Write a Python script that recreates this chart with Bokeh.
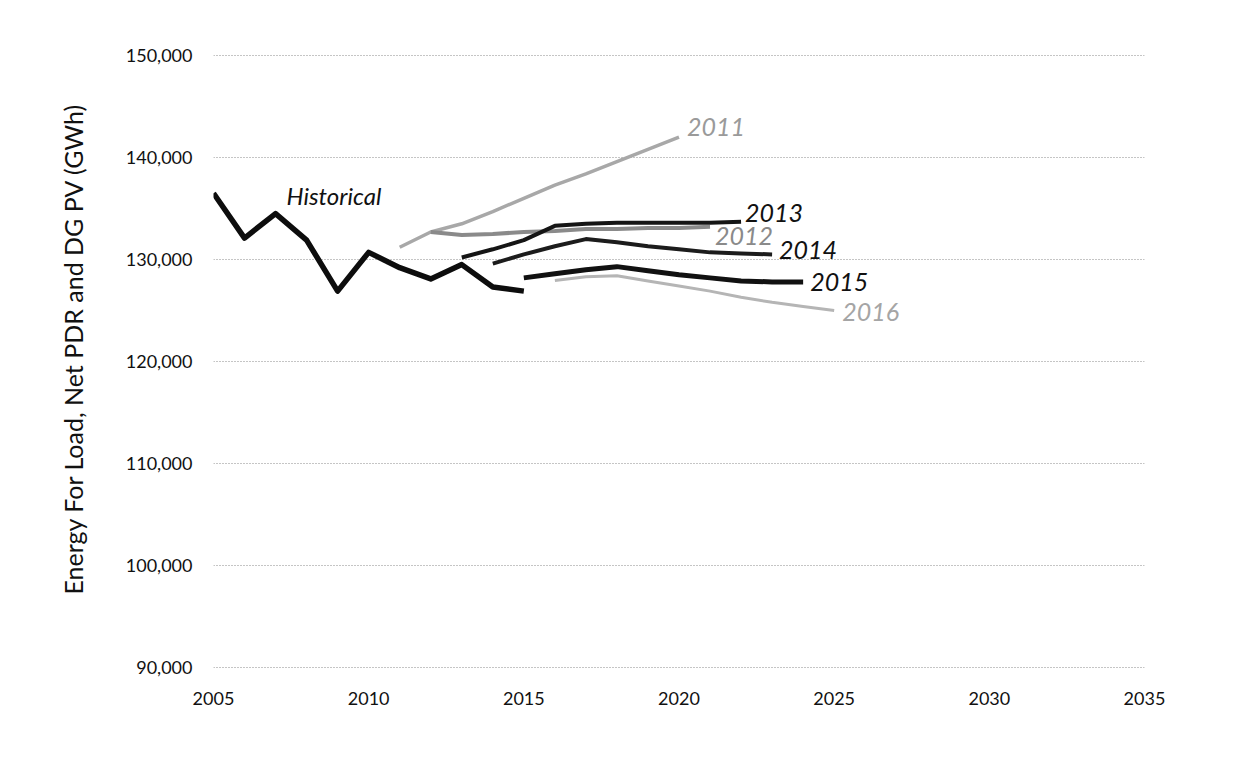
from bokeh.plotting import figure
from bokeh.models import Range1d, FixedTicker, CustomJSTickFormatter, Title
from bokeh.core.properties import value
from bokeh.embed import file_html
from bokeh.resources import INLINE

# ---- data (GWh) ----
hist_years = [2005, 2006, 2007, 2008, 2009, 2010, 2011, 2012, 2013, 2014, 2015]
hist_vals = [136500, 132100, 134500, 131900, 126900, 130700, 129200, 128100, 129500, 127300, 126900]

f2011_years = [2011, 2012, 2013, 2014, 2015, 2016, 2017, 2018, 2019, 2020]
f2011_vals = [131200, 132700, 133500, 134700, 136000, 137300, 138400, 139600, 140800, 142000]

f2012_years = [2012, 2013, 2014, 2015, 2016, 2017, 2018, 2019, 2020, 2021]
f2012_vals = [132700, 132400, 132500, 132700, 132800, 133000, 133000, 133100, 133100, 133200]

f2013_years = [2013, 2014, 2015, 2016, 2017, 2018, 2019, 2020, 2021, 2022]
f2013_vals = [130200, 131000, 131900, 133300, 133500, 133600, 133600, 133600, 133600, 133700]

f2014_years = [2014, 2015, 2016, 2017, 2018, 2019, 2020, 2021, 2022, 2023]
f2014_vals = [129600, 130500, 131300, 132000, 131700, 131300, 131000, 130700, 130600, 130500]

f2015_years = [2015, 2016, 2017, 2018, 2019, 2020, 2021, 2022, 2023, 2024]
f2015_vals = [128200, 128600, 129000, 129300, 128900, 128500, 128200, 127900, 127800, 127800]

f2016_years = [2016, 2017, 2018, 2019, 2020, 2021, 2022, 2023, 2024, 2025]
f2016_vals = [127950, 128300, 128400, 127900, 127400, 126900, 126300, 125800, 125400, 125000]

x_ticks = [2005, 2010, 2015, 2020, 2025, 2030, 2035]
y_ticks = [90000, 100000, 110000, 120000, 130000, 140000, 150000]

y_title = "Energy For Load, Net PDR and DG PV (GWh)"

FONT = "Lato"

p = figure(width=1247, height=765, output_backend="svg", toolbar_location=None,
           x_range=Range1d(2005, 2035), y_range=Range1d(89900, 150100),
           min_border_left=213, min_border_right=103, min_border_top=54, min_border_bottom=97)
p.outline_line_color = None
p.background_fill_color = "white"
p.border_fill_color = "white"

# grid
p.xgrid.visible = False
p.ygrid.ticker = FixedTicker(ticks=y_ticks)
p.ygrid.grid_line_color = "#8a8a8a"
p.ygrid.grid_line_dash = "1 2"
p.ygrid.grid_line_width = 1

# axes
p.xaxis.ticker = FixedTicker(ticks=x_ticks)
p.yaxis.ticker = FixedTicker(ticks=y_ticks)
p.yaxis.formatter = CustomJSTickFormatter(code="return tick.toLocaleString('en-US');")
for ax in (p.xaxis[0], p.yaxis[0]):
    ax.axis_line_color = None
    ax.major_tick_line_color = None
    ax.minor_tick_line_color = None
    ax.major_label_text_font = FONT
    ax.major_label_text_font_size = "18px"
    ax.major_label_text_color = "#111111"
p.xaxis.major_label_standoff = 17
p.yaxis.major_label_standoff = 15

# y-axis title as a side title (allows shifting along the axis)
p.add_layout(Title(text=y_title, align="left", offset=74, standoff=70,
                   text_font=FONT, text_font_size="25px", text_font_style="normal",
                   text_color="#111111"), "left")

# series
series = [
    (f2011_years, f2011_vals, "#a8a8a8", 3.5, "2011", "#9a9a9a", 8, -10),
    (f2012_years, f2012_vals, "#8a8a8a", 4, "2012", "#8a8a8a", 5, 9),
    (f2016_years, f2016_vals, "#b5b5b5", 3, "2016", "#a5a5a5", 8, 1),
    (f2013_years, f2013_vals, "#151515", 4, "2013", "#111111", 4, -9),
    (f2014_years, f2014_vals, "#1c1c1c", 4, "2014", "#111111", 7, -4),
    (f2015_years, f2015_vals, "#111111", 5, "2015", "#111111", 7, 0),
]
for yrs, vals, col, w, lab, lcol, dx, dy in series:
    p.line(yrs, vals, line_color=col, line_width=w, line_join="round")
    p.text(x=[yrs[-1]], y=[vals[-1]], text=[lab], text_font=value(FONT),
           text_font_style="italic", text_font_size="25px", text_color=lcol,
           text_align="left", text_baseline="middle", x_offset=dx, y_offset=dy)

p.line(hist_years, hist_vals, line_color="#0d0d0d", line_width=5.5, line_join="round")
p.text(x=[hist_years[2]], y=[hist_vals[2]], text=["Historical"], text_font=value(FONT),
       text_font_style="italic", text_font_size="24px", text_color="#111111",
       text_align="left", text_baseline="middle", x_offset=11, y_offset=-18)

open("out.html", "w").write(file_html(p, INLINE))
